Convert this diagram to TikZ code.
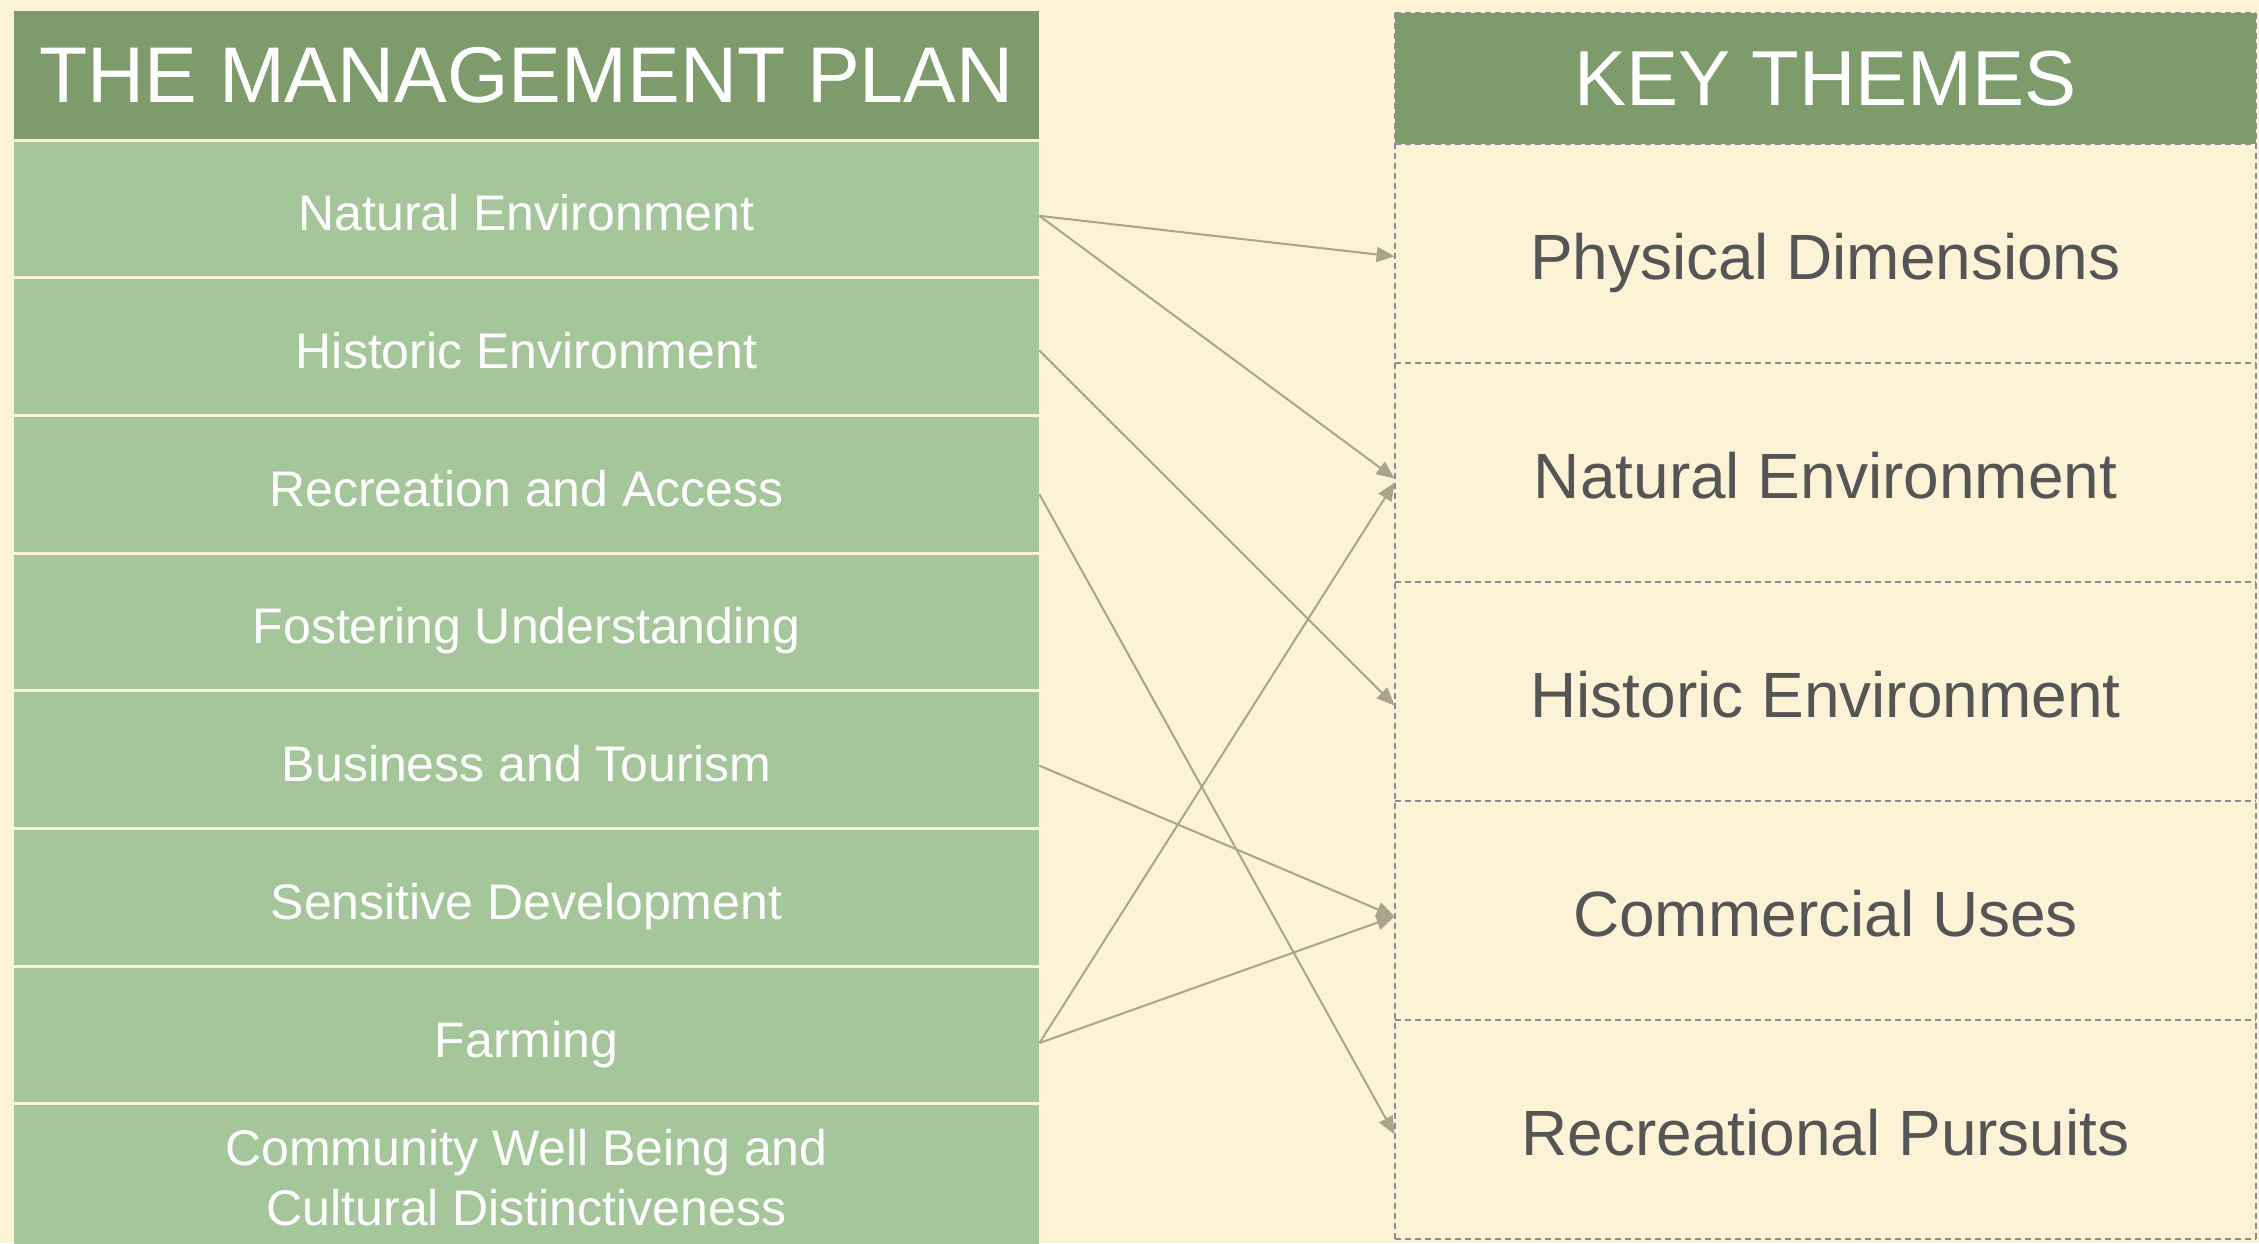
\documentclass[tikz,border=0pt]{standalone}
\usepackage{fontspec}
\setmainfont{Liberation Sans}
\usetikzlibrary{arrows.meta}
\definecolor{bg}{HTML}{FCF3D7}
\definecolor{hdr}{HTML}{7D9B6B}
\definecolor{rowg}{HTML}{A5C69A}
\definecolor{arr}{HTML}{A8A48D}
\definecolor{dashc}{HTML}{8A8C92}
\definecolor{txt}{HTML}{555555}
\tikzset{
  planhdr/.style={fill=hdr, inner sep=0pt, minimum width=512.5pt, minimum height=64.25pt,
    text=white, font=\fontsize{39.5}{44}\selectfont},
  planbase/.style={fill=rowg, inner sep=0pt, minimum width=512.5pt, minimum height=67.35pt,
    text=white, align=center, font=\fontsize{25}{30}\selectfont},
  planrow/.style={planbase, text height=23pt, text depth=1pt},
  themehdr/.style={fill=hdr, inner sep=0pt, minimum width=430.5pt, minimum height=65.5pt,
    text=white, font=\fontsize{39}{44}\selectfont},
  themerow/.style={inner sep=0pt, minimum width=430.5pt, minimum height=109.5pt,
    text=txt, font=\fontsize{32}{38}\selectfont, text height=28pt, text depth=1.6pt},
  sepline/.style={draw=dashc, line width=1pt, dash pattern=on 3pt off 2pt},
  conn/.style={draw=arr, line width=1pt, -{Triangle[length=9pt,width=7.5pt]}}
}
\begin{document}
\begin{tikzpicture}[x=0.5pt,y=-0.5pt]
\fill[bg] (0,0) rectangle (2259,1243);
\useasboundingbox (0,0) rectangle (2259,1243);

% left column
\node[planhdr] (ph) at (526.5,75) {THE MANAGEMENT PLAN};
\node[planrow] (p1) at (526.5,208.85) {Natural Environment};
\node[planrow] (p2) at (526.5,346.55) {Historic Environment};
\node[planrow] (p3) at (526.5,484.25) {Recreation and Access};
\node[planrow] (p4) at (526.5,621.95) {Fostering Understanding};
\node[planrow] (p5) at (526.5,759.65) {Business and Tourism};
\node[planrow] (p6) at (526.5,897.35) {Sensitive Development};
\node[planrow] (p7) at (526.5,1035.05) {Farming};
\node[planbase, minimum height=72.3pt] (p8) at (526.5,1177.7) {Community Well Being and\\Cultural Distinctiveness};

% right column
\node[themehdr] (kh) at (1825.5,78.5) {KEY THEMES};
\node[themerow] (k1) at (1825.5,253.5) {Physical Dimensions};
\node[themerow] (k2) at (1825.5,472.5) {Natural Environment};
\node[themerow] (k3) at (1825.5,691.5) {Historic Environment};
\node[themerow] (k4) at (1825.5,910.5) {Commercial Uses};
\node[themerow] (k5) at (1825.5,1129.5) {Recreational Pursuits};

\draw[sepline] (kh.north west) -- (kh.north east);
\draw[sepline] (kh.north west) -- (k5.south west);
\draw[sepline] (kh.north east) -- (k5.south east);
\draw[sepline] (k1.north west) -- (k1.north east);
\draw[sepline] (k1.south west) -- (k1.south east);
\draw[sepline] (k2.south west) -- (k2.south east);
\draw[sepline] (k3.south west) -- (k3.south east);
\draw[sepline] (k4.south west) -- (k4.south east);
\draw[sepline] (k5.south west) -- (k5.south east);

% connectors
\draw[conn] ([yshift=-3.5pt]p1.east) -- ([yshift=-1.5pt]k1.west);
\draw[conn] ([yshift=-3.5pt]p1.east) -- ([yshift=-3pt]k2.west);
\draw[conn] ([yshift=-2pt]p2.east) -- ([yshift=-7pt]k3.west);
\draw[conn] ([yshift=-5pt]p3.east) -- ([yshift=-2.5pt]k5.west);
\draw[conn] ([yshift=-3pt]p5.east) -- ([yshift=-3pt]k4.west);
\draw[conn] ([yshift=-4pt]p7.east) -- ([yshift=-5pt]k2.west);
\draw[conn] ([yshift=-4pt]p7.east) -- ([yshift=-3pt]k4.west);
\end{tikzpicture}
\end{document}
